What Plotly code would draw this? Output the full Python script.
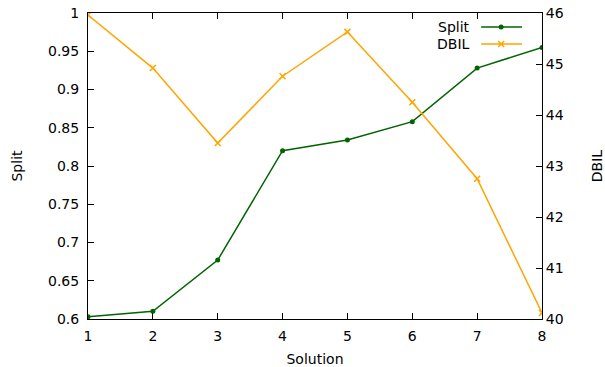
import plotly.graph_objects as go

solution = [1, 2, 3, 4, 5, 6, 7, 8]
split = [0.603, 0.610, 0.677, 0.820, 0.834, 0.858, 0.928, 0.955]
dbil = [45.96, 44.92, 43.45, 44.76, 45.63, 44.25, 42.75, 40.12]

GREEN = "#006400"
ORANGE = "#FFA500"
FONT = dict(family="DejaVu Sans", size=14, color="black")

fig = go.Figure()
fig.add_trace(go.Scatter(x=solution, y=split, mode="lines+markers", name="Split",
                         line=dict(color=GREEN, width=1.5),
                         marker=dict(color=GREEN, size=5, symbol="circle"),
                         showlegend=False))
fig.add_trace(go.Scatter(x=solution, y=dbil, mode="lines+markers", name="DBIL",
                         yaxis="y2",
                         line=dict(color=ORANGE, width=1.5),
                         marker=dict(color=ORANGE, size=6, symbol="x-thin",
                                     line=dict(color=ORANGE, width=1.5)),
                         showlegend=False))

axis_common = dict(showline=True, linecolor="black", linewidth=1, showgrid=False,
                   zeroline=False, ticks="inside", ticklen=6, tickcolor="black",
                   tickfont=FONT, automargin=False)

fig.update_layout(
    width=605, height=367,
    margin=dict(l=88, r=63, t=13, b=48),
    paper_bgcolor="white", plot_bgcolor="white",
    font=FONT,
    xaxis=dict(range=[1, 8], dtick=1, tick0=1, mirror="ticks", ticklabelstandoff=4,
               title=dict(text="Solution", font=FONT, standoff=12), **axis_common),
    yaxis=dict(range=[0.6, 1.0], dtick=0.05, tick0=0.6, ticklabelstandoff=5,
               title=dict(text="Split", font=FONT, standoff=22), **axis_common),
    yaxis2=dict(range=[40, 46], dtick=1, tick0=40, overlaying="y", side="right",
                title=dict(text="DBIL", font=FONT, standoff=32), **axis_common),
)

# gnuplot-style key (text left, sample right)
legend_items = [("Split", GREEN, "circle", 0.954), ("DBIL", ORANGE, "x-thin", 0.899)]
for label, color, sym, yy in legend_items:
    fig.add_annotation(x=0.846, y=yy, xref="paper", yref="paper", text=label,
                       showarrow=False, xanchor="right", yanchor="middle", font=FONT)
    fig.add_shape(type="line", xref="paper", yref="paper", x0=0.866, x1=0.956,
                  y0=yy, y1=yy, line=dict(color=color, width=1.5))
    if sym == "circle":
        fig.add_shape(type="circle", xref="paper", yref="paper",
                      x0=0.910 - 2.5 / 454, x1=0.910 + 2.5 / 454,
                      y0=yy - 2.5 / 306, y1=yy + 2.5 / 306,
                      fillcolor=color, line=dict(color=color, width=0))
    else:
        d = 3
        fig.add_shape(type="line", xref="paper", yref="paper",
                      x0=0.910 - d / 454, x1=0.910 + d / 454,
                      y0=yy - d / 306, y1=yy + d / 306, line=dict(color=color, width=1.5))
        fig.add_shape(type="line", xref="paper", yref="paper",
                      x0=0.910 - d / 454, x1=0.910 + d / 454,
                      y0=yy + d / 306, y1=yy - d / 306, line=dict(color=color, width=1.5))

fig.write_html("out.html", config={"displayModeBar": False, "staticPlot": True},
               post_script="document.body.style.margin='0';document.body.style.overflow='hidden';")
